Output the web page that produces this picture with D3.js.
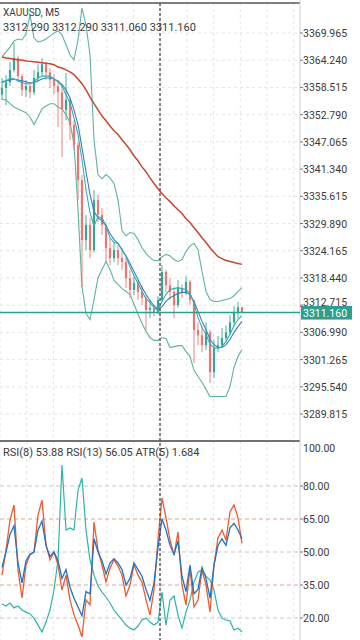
<!DOCTYPE html>
<html lang="en">
<head>
    <meta charset="UTF-8">
    <meta name="viewport" content="width=device-width, initial-scale=1.0">
    <title>XAUUSD M5</title>
    <style>
        body { margin: 0; background: #fff; }
        text { font-family: Roboto, "Noto Sans", sans-serif; fill: #3a3a3a; }
    </style>
</head>
<body>
    <svg id="chart" width="360" height="640"></svg>

    <script src="https://d3js.org/d3.v7.min.js"></script>
    <script>
        // candles (open of each bar = previous close)
        const firstOpen = 3357.0;
        const closes = [3358.4,3359.6,3362.2,3364.7,3360.9,3358.0,3358.8,3357.5,3360.5,3361.7,
            3363.4,3361.7,3360.1,3358.8,3357.5,3353.8,3355.9,3350.6,3346.4,3339.0,
            3326.4,3329.6,3324.3,3334.8,3331.7,3329.6,3324.7,3322.6,3324.3,3322.6,
            3321.8,3318.4,3315.9,3317.4,3315.5,3314.2,3311.7,3312.1,3311.3,3313.8,
            3319.7,3316.9,3315.5,3312.7,3316.3,3315.3,3317.6,3313.8,3307.5,3306.4,
            3304.3,3307.0,3298.6,3303.7,3304.3,3305.8,3307.0,3309.1,3311.3,3312.29,3311.16];
        const highs = [3360.5,3361.1,3363.9,3367.9,3365.2,3361.3,3360.1,3359.6,3362.2,3363.4,
            3364.7,3363.9,3362.6,3361.3,3360.1,3359.2,3361.5,3356.4,3351.6,3347.0,
            3340.1,3331.7,3331.0,3336.9,3335.9,3333.1,3330.1,3326.8,3326.0,3325.3,
            3324.7,3322.6,3320.1,3319.0,3318.0,3316.9,3314.8,3313.8,3312.7,3314.6,
            3321.1,3320.1,3318.4,3316.5,3318.0,3317.1,3318.8,3318.0,3313.8,3309.1,
            3308.5,3309.1,3307.5,3305.4,3306.2,3307.9,3308.5,3310.6,3312.5,3313.4,3312.29];
        const lows = [3355.9,3354.8,3358.8,3361.7,3359.6,3356.7,3356.5,3356.3,3356.9,3359.6,
            3360.9,3360.1,3358.4,3357.1,3350.2,3343.9,3351.6,3347.4,3345.3,3334.8,
            3316.5,3324.3,3322.6,3323.8,3330.2,3327.5,3321.8,3321.1,3321.8,3321.1,
            3320.1,3316.3,3314.2,3314.8,3313.8,3312.7,3307.5,3310.0,3310.4,3310.8,
            3313.4,3315.5,3313.8,3310.0,3312.2,3314.2,3314.8,3312.7,3300.5,3304.3,
            3302.8,3303.3,3296.3,3297.4,3302.8,3303.7,3304.9,3306.4,3308.5,3310.0,3311.06];

        // overlays on the price pane
        const bbUpper = [3364.9,3366.0,3367.0,3368.3,3368.7,3368.5,3369.8,3373.8,3368.9,3368.1,
            3368.3,3368.7,3369.3,3370.0,3370.4,3369.6,3367.5,3365.4,3364.3,3368.5,
            3375.2,3371.7,3365.4,3347.5,3340.2,3339.3,3340.2,3339.5,3338.3,3334.9,
            3328.4,3327.3,3328.0,3327.8,3326.5,3324.8,3323.6,3322.7,3322.1,3322.1,
            3322.9,3323.4,3323.1,3322.3,3321.9,3322.3,3324.0,3325.2,3325.7,3324.4,
            3319.8,3315.6,3313.9,3313.5,3313.5,3313.7,3313.9,3314.1,3314.7,3315.6,3316.4];
        const bbLower = [3356.1,3355.9,3355.1,3354.4,3354.0,3353.6,3353.2,3352.3,3350.7,3352.3,
            3354.0,3354.6,3355.1,3355.1,3354.4,3354.0,3352.8,3351.1,3346.7,3332.8,
            3316.6,3311.0,3309.7,3313.9,3318.5,3320.2,3321.9,3320.2,3317.9,3317.1,
            3316.2,3315.6,3315.0,3312.9,3310.8,3308.9,3307.2,3305.9,3305.3,3305.3,
            3305.9,3305.7,3303.8,3304.0,3304.2,3304.2,3303.0,3301.9,3299.0,3297.7,
            3296.5,3295.0,3293.5,3293.5,3293.5,3293.5,3293.5,3295.6,3299.6,3301.9,3303.4];
        const maFast = [3359.5,3359.9,3360.5,3360.3,3359.9,3359.5,3359.3,3359.3,3359.7,3360.5,
            3360.9,3360.9,3360.9,3360.3,3359.7,3358.8,3357.0,3355.3,3352.1,3348.6,
            3343.3,3337.0,3332.2,3329.4,3331.3,3331.1,3329.4,3326.9,3325.9,3325.7,
            3324.4,3322.9,3320.8,3318.9,3317.3,3315.6,3314.1,3313.3,3312.2,3311.6,
            3313.5,3315.0,3316.0,3316.2,3316.4,3316.2,3316.0,3315.2,3313.1,3310.1,
            3308.0,3306.6,3304.5,3303.8,3303.6,3304.0,3305.1,3306.6,3308.4,3309.7,3310.5];
        const maMid = [3359.7,3359.9,3360.1,3360.3,3360.1,3359.9,3359.7,3359.5,3359.5,3359.9,
            3360.3,3360.5,3360.5,3360.3,3359.9,3359.1,3358.0,3356.3,3353.8,3350.7,
            3345.8,3340.8,3336.0,3332.4,3331.1,3330.5,3329.4,3327.8,3326.5,3325.7,
            3324.4,3323.1,3321.5,3319.8,3318.1,3316.4,3315.0,3313.7,3312.6,3311.8,
            3312.4,3313.5,3314.3,3314.7,3315.2,3315.4,3315.4,3315.0,3313.5,3311.4,
            3309.3,3307.6,3305.5,3304.4,3303.8,3303.8,3304.4,3305.5,3307.0,3308.2,3309.3];
        const maSlow = [3364.9,3364.7,3364.6,3364.5,3364.3,3364.3,3364.1,3364.0,3363.9,3363.8,
            3363.7,3363.6,3363.5,3363.3,3362.8,3362.6,3362.2,3361.8,3361.2,3360.3,
            3359.3,3358.0,3356.5,3355.1,3353.8,3352.5,3351.5,3350.4,3349.4,3348.6,
            3347.5,3346.5,3345.4,3344.1,3343.1,3341.8,3340.8,3339.5,3338.3,3337.2,
            3336.2,3335.3,3334.5,3333.6,3332.8,3332.0,3330.9,3330.1,3329.0,3328.0,
            3326.9,3325.9,3324.8,3323.8,3322.9,3322.5,3322.1,3321.9,3321.7,3321.5,3321.3];

        // indicator pane
        const rsi8 = [39.5,50.9,64.5,71.4,41.8,29.1,44.1,48.6,50.0,66.8,
            73.6,53.2,46.4,50.0,44.1,32.7,39.5,28.2,21.4,16.8,
            11.4,28.2,25.9,63.6,50.9,44.1,36.4,42.7,46.4,43.6,
            39.5,30.0,35.0,44.1,39.5,36.4,28.2,21.4,32.7,55.5,
            74.5,65.5,55.5,48.6,59.1,35.0,25.9,42.7,25.0,28.2,
            41.8,35.0,22.7,44.1,56.4,60.0,55.5,68.2,71.4,65.5,53.88];
        const rsi13 = [43,50,58,62,45,36,46,49,50,60,
            64,53,48,50,46,38,42,34,29,25,
            21,32,31,56,50,46,40,45,47,45,
            42,35,38,45,42,39,33,28,36,52,
            65,60,53,49,55,39,32,44,31,33,
            43,38,29,44,53,56,53,61,63,60,56.05];
        const atr5 = [2.89,2.80,2.93,2.72,2.80,2.63,2.54,2.46,2.28,1.98,
            1.68,2.11,2.63,3.49,4.78,8.87,6.07,6.16,6.07,7.79,
            8.31,6.07,4.78,4.14,3.66,3.40,3.19,2.93,2.63,2.41,
            2.20,1.98,1.85,1.77,1.94,2.20,2.28,2.11,1.98,2.11,
            3.40,1.98,3.06,3.23,2.41,1.85,2.54,3.06,3.83,4.26,
            4.35,4.09,3.92,3.49,2.63,2.28,2.20,2.16,1.77,1.85,1.684];

        const priceTicks = [3369.965,3364.240,3358.515,3352.790,3347.065,3341.340,3335.615,
            3329.890,3324.165,3318.440,3312.715,3306.990,3301.265,3295.540,3289.815];
        const rsiLevels = [80, 65, 50, 35, 20];
        const rsiRedLevels = [65, 35];
        const lastPrice = 3311.160;
        const askPrice = 3312.45;
        const crossBar = 39.5;

        const svg = d3.select("#chart");
        const W = 300, mainTop = 3, mainBot = 441, subBot = 640;

        const x = d3.scaleLinear().domain([0, 60]).range([2, 242]);
        const y = d3.scaleLinear().domain([3284.14, 3376.28]).range([mainBot, mainTop]);
        const yR = d3.scaleLinear().domain([0, 100]).range([662, 442]);
        const yA = d3.scaleLinear().domain([0, 9]).range([671.1, 462]);

        svg.append("clipPath").attr("id", "clipMain")
            .append("rect").attr("x", 0).attr("y", mainTop).attr("width", W).attr("height", mainBot - mainTop);
        svg.append("clipPath").attr("id", "clipSub")
            .append("rect").attr("x", 0).attr("y", mainBot).attr("width", W).attr("height", subBot - mainBot);

        // grid
        const grid = svg.append("g").attr("stroke", "#e6e6e6").attr("stroke-dasharray", "3,3").attr("stroke-width", 1);
        d3.range(0, W, 26.7).forEach(gx => {
            grid.append("line").attr("x1", gx).attr("x2", gx).attr("y1", mainTop).attr("y2", subBot);
        });
        priceTicks.forEach(p => {
            grid.append("line").attr("x1", 0).attr("x2", W).attr("y1", y(p)).attr("y2", y(p));
        });

        // rsi level lines
        rsiLevels.forEach(v => {
            const red = rsiRedLevels.includes(v);
            svg.append("line")
                .attr("x1", 0).attr("x2", W).attr("y1", yR(v)).attr("y2", yR(v))
                .attr("stroke", red ? "#e8a08c" : "#c8c8c8")
                .attr("stroke-dasharray", "4,3");
        });

        const main = svg.append("g").attr("clip-path", "url(#clipMain)");
        const sub = svg.append("g").attr("clip-path", "url(#clipSub)");

        const line = (arr, sc) => d3.line().x((d, i) => x(i)).y(d => sc(d))(arr);

        // bollinger bands
        [bbUpper, bbLower].forEach(arr => {
            main.append("path").attr("d", line(arr, y))
                .attr("fill", "none").attr("stroke", "#5cb59c").attr("stroke-width", 1.1);
        });

        // candles
        closes.forEach((c, i) => {
            const o = i === 0 ? firstOpen : closes[i - 1];
            const col = c >= o ? "#35a68f" : "#ef7471";
            main.append("line")
                .attr("x1", x(i)).attr("x2", x(i))
                .attr("y1", y(highs[i])).attr("y2", y(lows[i]))
                .attr("stroke", col).attr("stroke-width", 0.9);
            main.append("rect")
                .attr("x", x(i) - 1.1).attr("width", 2.2)
                .attr("y", y(Math.max(o, c)))
                .attr("height", Math.max(1, Math.abs(y(o) - y(c))))
                .attr("fill", col);
        });

        // moving averages
        main.append("path").attr("d", line(maMid, y))
            .attr("fill", "none").attr("stroke", "#3d7cc2").attr("stroke-width", 1.1);
        main.append("path").attr("d", line(maFast, y))
            .attr("fill", "none").attr("stroke", "#2bb2b6").attr("stroke-width", 1.1);
        main.append("path").attr("d", line(maSlow, y))
            .attr("fill", "none").attr("stroke", "#c9472f").attr("stroke-width", 1.5);

        // indicator lines
        sub.append("path").attr("d", line(atr5, yA))
            .attr("fill", "none").attr("stroke", "#2fb3a9").attr("stroke-width", 1.2);
        sub.append("path").attr("d", line(rsi8, yR))
            .attr("fill", "none").attr("stroke", "#ee5b30").attr("stroke-width", 1.3);
        sub.append("path").attr("d", line(rsi13, yR))
            .attr("fill", "none").attr("stroke", "#1f74c6").attr("stroke-width", 1.3);

        // frame lines
        svg.append("line").attr("x1", 0).attr("x2", W).attr("y1", mainTop).attr("y2", mainTop)
            .attr("stroke", "#555").attr("stroke-width", 1.5);
        svg.append("line").attr("x1", 0).attr("x2", W).attr("y1", mainBot).attr("y2", mainBot)
            .attr("stroke", "#444").attr("stroke-width", 1.5);
        svg.append("line").attr("x1", W).attr("x2", W).attr("y1", 0).attr("y2", subBot)
            .attr("stroke", "#cfcfcf").attr("stroke-width", 1);

        // crosshair
        svg.append("line").attr("x1", x(crossBar)).attr("x2", x(crossBar))
            .attr("y1", mainTop).attr("y2", subBot)
            .attr("stroke", "#555").attr("stroke-width", 1.4).attr("stroke-dasharray", "3,2");

        // price axis labels
        priceTicks.forEach(p => {
            const nearLast = Math.abs(p - lastPrice) < 2;
            svg.append("line").attr("x1", W).attr("x2", W + 3).attr("y1", y(p)).attr("y2", y(p))
                .attr("stroke", "#777");
            svg.append("text").attr("x", W + 3).attr("y", y(p) + (nearLast ? 0.5 : 4))
                .attr("font-size", "10.5px").text(p.toFixed(3));
        });

        // ask line (axis part) and last price line
        svg.append("line").attr("x1", W).attr("x2", 352).attr("y1", y(askPrice)).attr("y2", y(askPrice))
            .attr("stroke", "#e05050").attr("stroke-width", 1);
        svg.append("line").attr("x1", 0).attr("x2", W).attr("y1", y(lastPrice)).attr("y2", y(lastPrice))
            .attr("stroke", "#2e9e8f").attr("stroke-width", 1.5);
        svg.append("rect").attr("x", W + 1).attr("y", y(lastPrice) - 6.5).attr("width", 51).attr("height", 13.5)
            .attr("fill", "#2e9e8f");
        svg.append("text").attr("x", W + 3).attr("y", y(lastPrice) + 4)
            .attr("font-size", "10.5px").style("fill", "#fff").text(lastPrice.toFixed(3));

        // rsi axis labels
        svg.append("text").attr("x", W + 3).attr("y", 452).attr("font-size", "10.5px").text("100.00");
        rsiLevels.forEach(v => {
            svg.append("line").attr("x1", W).attr("x2", W + 3).attr("y1", yR(v)).attr("y2", yR(v))
                .attr("stroke", "#777");
            svg.append("text").attr("x", W + 3).attr("y", yR(v) + 4)
                .attr("font-size", "10.5px").text(v.toFixed(2));
        });

        // headers
        svg.append("text").attr("x", 3).attr("y", 16).attr("font-size", "10px").text("XAUUSD, M5");
        svg.append("text").attr("x", 3).attr("y", 31).attr("font-size", "11px")
            .text("3312.290 3312.290 3311.060 3311.160");
        svg.append("text").attr("x", 3).attr("y", 456).attr("font-size", "11px")
            .text("RSI(8) 53.88 RSI(13) 56.05 ATR(5) 1.684");
    </script>
</body>
</html>
